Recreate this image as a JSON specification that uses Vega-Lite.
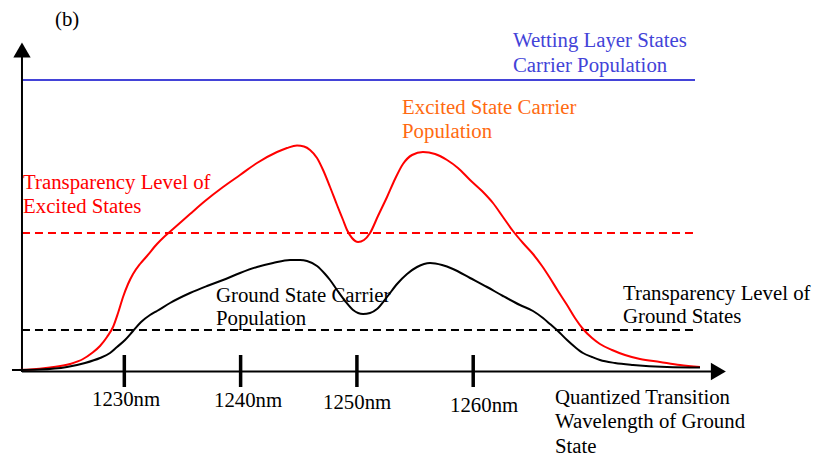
{
  "$schema": "https://vega.github.io/schema/vega-lite/v6.json",
  "width": 815,
  "height": 461,
  "padding": 0,
  "autosize": {"type": "fit", "contains": "padding"},
  "background": "white",
  "config": {"view": {"stroke": null}},
  "datasets": {
    "curves": [
      {"series": "excited", "x": 1220.34, "y": 1},
      {"series": "excited", "x": 1221.89, "y": 1.5},
      {"series": "excited", "x": 1223.61, "y": 3.5},
      {"series": "excited", "x": 1225.33, "y": 7},
      {"series": "excited", "x": 1226.45, "y": 12},
      {"series": "excited", "x": 1227.22, "y": 18},
      {"series": "excited", "x": 1227.91, "y": 25},
      {"series": "excited", "x": 1228.51, "y": 34},
      {"series": "excited", "x": 1229.03, "y": 44},
      {"series": "excited", "x": 1229.46, "y": 58},
      {"series": "excited", "x": 1229.89, "y": 74},
      {"series": "excited", "x": 1230.32, "y": 87},
      {"series": "excited", "x": 1230.75, "y": 97},
      {"series": "excited", "x": 1231.35, "y": 107},
      {"series": "excited", "x": 1231.95, "y": 115},
      {"series": "excited", "x": 1232.81, "y": 127},
      {"series": "excited", "x": 1233.50, "y": 135},
      {"series": "excited", "x": 1234.19, "y": 142},
      {"series": "excited", "x": 1235.65, "y": 157},
      {"series": "excited", "x": 1236.94, "y": 170},
      {"series": "excited", "x": 1238.49, "y": 184},
      {"series": "excited", "x": 1239.95, "y": 196},
      {"series": "excited", "x": 1241.41, "y": 208},
      {"series": "excited", "x": 1243.13, "y": 219},
      {"series": "excited", "x": 1243.99, "y": 223},
      {"series": "excited", "x": 1244.85, "y": 225.5},
      {"series": "excited", "x": 1245.45, "y": 224.5},
      {"series": "excited", "x": 1245.97, "y": 221},
      {"series": "excited", "x": 1246.57, "y": 213},
      {"series": "excited", "x": 1247.09, "y": 201},
      {"series": "excited", "x": 1247.69, "y": 184},
      {"series": "excited", "x": 1248.29, "y": 166},
      {"series": "excited", "x": 1248.81, "y": 151},
      {"series": "excited", "x": 1249.15, "y": 141},
      {"series": "excited", "x": 1249.58, "y": 133},
      {"series": "excited", "x": 1250.10, "y": 129},
      {"series": "excited", "x": 1250.61, "y": 131},
      {"series": "excited", "x": 1251.13, "y": 138},
      {"series": "excited", "x": 1251.81, "y": 155},
      {"series": "excited", "x": 1252.59, "y": 174},
      {"series": "excited", "x": 1253.28, "y": 192},
      {"series": "excited", "x": 1253.96, "y": 207},
      {"series": "excited", "x": 1254.74, "y": 216},
      {"series": "excited", "x": 1255.68, "y": 219},
      {"series": "excited", "x": 1256.72, "y": 217},
      {"series": "excited", "x": 1257.75, "y": 211},
      {"series": "excited", "x": 1258.69, "y": 203},
      {"series": "excited", "x": 1259.73, "y": 191},
      {"series": "excited", "x": 1260.76, "y": 180},
      {"series": "excited", "x": 1261.70, "y": 168},
      {"series": "excited", "x": 1262.56, "y": 154},
      {"series": "excited", "x": 1263.42, "y": 140},
      {"series": "excited", "x": 1264.28, "y": 128},
      {"series": "excited", "x": 1265.14, "y": 117},
      {"series": "excited", "x": 1265.92, "y": 105},
      {"series": "excited", "x": 1266.60, "y": 93},
      {"series": "excited", "x": 1267.29, "y": 80},
      {"series": "excited", "x": 1268.07, "y": 66},
      {"series": "excited", "x": 1268.75, "y": 53},
      {"series": "excited", "x": 1269.44, "y": 42},
      {"series": "excited", "x": 1270.22, "y": 33},
      {"series": "excited", "x": 1270.90, "y": 27},
      {"series": "excited", "x": 1271.94, "y": 21},
      {"series": "excited", "x": 1273.05, "y": 16},
      {"series": "excited", "x": 1274.34, "y": 12},
      {"series": "excited", "x": 1276.06, "y": 9},
      {"series": "excited", "x": 1277.78, "y": 6},
      {"series": "excited", "x": 1279.50, "y": 4},
      {"series": "ground", "x": 1220.34, "y": 1},
      {"series": "ground", "x": 1222.75, "y": 1.5},
      {"series": "ground", "x": 1225.07, "y": 4},
      {"series": "ground", "x": 1226.62, "y": 8},
      {"series": "ground", "x": 1227.91, "y": 13},
      {"series": "ground", "x": 1228.77, "y": 18},
      {"series": "ground", "x": 1229.37, "y": 24},
      {"series": "ground", "x": 1230.06, "y": 31},
      {"series": "ground", "x": 1230.75, "y": 40},
      {"series": "ground", "x": 1231.44, "y": 49},
      {"series": "ground", "x": 1232.21, "y": 56},
      {"series": "ground", "x": 1232.81, "y": 60},
      {"series": "ground", "x": 1233.93, "y": 68},
      {"series": "ground", "x": 1235.65, "y": 78},
      {"series": "ground", "x": 1237.11, "y": 85},
      {"series": "ground", "x": 1238.49, "y": 91},
      {"series": "ground", "x": 1239.95, "y": 98},
      {"series": "ground", "x": 1241.41, "y": 104},
      {"series": "ground", "x": 1242.79, "y": 108},
      {"series": "ground", "x": 1244.25, "y": 111},
      {"series": "ground", "x": 1245.11, "y": 111},
      {"series": "ground", "x": 1245.71, "y": 110},
      {"series": "ground", "x": 1246.57, "y": 105},
      {"series": "ground", "x": 1247.26, "y": 97},
      {"series": "ground", "x": 1247.69, "y": 91},
      {"series": "ground", "x": 1248.29, "y": 81},
      {"series": "ground", "x": 1248.98, "y": 70},
      {"series": "ground", "x": 1249.67, "y": 61},
      {"series": "ground", "x": 1250.53, "y": 57},
      {"series": "ground", "x": 1251.13, "y": 58},
      {"series": "ground", "x": 1251.73, "y": 62},
      {"series": "ground", "x": 1252.59, "y": 74},
      {"series": "ground", "x": 1253.45, "y": 87},
      {"series": "ground", "x": 1254.31, "y": 97},
      {"series": "ground", "x": 1255.17, "y": 104},
      {"series": "ground", "x": 1256.29, "y": 108},
      {"series": "ground", "x": 1257.32, "y": 106},
      {"series": "ground", "x": 1258.26, "y": 102},
      {"series": "ground", "x": 1259.73, "y": 93},
      {"series": "ground", "x": 1261.19, "y": 84},
      {"series": "ground", "x": 1262.56, "y": 75},
      {"series": "ground", "x": 1264.02, "y": 66},
      {"series": "ground", "x": 1265.14, "y": 60},
      {"series": "ground", "x": 1266.00, "y": 53},
      {"series": "ground", "x": 1266.60, "y": 47},
      {"series": "ground", "x": 1267.46, "y": 38},
      {"series": "ground", "x": 1268.07, "y": 31},
      {"series": "ground", "x": 1268.75, "y": 24},
      {"series": "ground", "x": 1269.44, "y": 18},
      {"series": "ground", "x": 1270.22, "y": 14},
      {"series": "ground", "x": 1270.90, "y": 11},
      {"series": "ground", "x": 1272.19, "y": 8},
      {"series": "ground", "x": 1273.74, "y": 6},
      {"series": "ground", "x": 1276.66, "y": 4},
      {"series": "ground", "x": 1279.50, "y": 3.5}
    ],
    "levels": [
      {"series": "wetting", "style": "solid", "x": 1221.20, "x2": 1279.07, "y": 291},
      {"series": "excited", "style": "dashed", "x": 1221.20, "x2": 1278.90, "y": 138},
      {"series": "ground", "style": "dashed", "x": 1221.20, "x2": 1279.33, "y": 41}
    ],
    "axes": [
      {"series": "axis", "x": 1221.20, "x2": 1221.20, "y": -1, "y2": 321},
      {"series": "axis", "x": 1221.20, "x2": 1281.08, "y": -0.5, "y2": -0.5}
    ],
    "ticks": [
      {"series": "axis", "x": 1230, "y": -16, "y2": 16},
      {"series": "axis", "x": 1240, "y": -16, "y2": 16},
      {"series": "axis", "x": 1250, "y": -16, "y2": 16},
      {"series": "axis", "x": 1260, "y": -16, "y2": 16}
    ],
    "arrows": [
      {"series": "axis", "dir": "up", "x": 1221.20, "y": 321},
      {"series": "axis", "dir": "right", "x": 1281.08, "y": -0.5}
    ],
    "labels": [
      {"series": "axis", "text": "(b)", "x": 1224.04, "y": 345},
      {"series": "wetting", "text": "Wetting Layer States", "x": 1263.42, "y": 324},
      {"series": "wetting", "text": "Carrier Population", "x": 1263.42, "y": 299},
      {"series": "excited_label", "text": "Excited State Carrier", "x": 1253.88, "y": 257},
      {"series": "excited_label", "text": "Population", "x": 1253.88, "y": 233},
      {"series": "excited", "text": "Transparency Level of", "x": 1221.29, "y": 182},
      {"series": "excited", "text": "Excited States", "x": 1221.29, "y": 158},
      {"series": "ground", "text": "Ground State Carrier", "x": 1237.88, "y": 69},
      {"series": "ground", "text": "Population", "x": 1237.88, "y": 46},
      {"series": "ground", "text": "Transparency Level of", "x": 1272.88, "y": 71},
      {"series": "ground", "text": "Ground States", "x": 1272.88, "y": 48},
      {"series": "axis", "text": "Quantized Transition", "x": 1267.03, "y": -33},
      {"series": "axis", "text": "Wavelength of Ground", "x": 1267.03, "y": -57},
      {"series": "axis", "text": "State", "x": 1267.03, "y": -82},
      {"series": "axis", "text": "1230nm", "x": 1227.22, "y": -35},
      {"series": "axis", "text": "1240nm", "x": 1237.71, "y": -36},
      {"series": "axis", "text": "1250nm", "x": 1247.09, "y": -38},
      {"series": "axis", "text": "1260nm", "x": 1258.01, "y": -41}
    ]
  },
  "layer": [
    {
      "data": {"name": "levels"},
      "mark": {"type": "rule", "strokeWidth": 2},
      "encoding": {
        "x": {"field": "x", "type": "quantitative", "scale": {"domain": [1219.31, 1289.39], "nice": false, "zero": false}, "axis": null},
        "x2": {"field": "x2"},
        "y": {"field": "y", "type": "quantitative", "scale": {"domain": [-90, 371], "nice": false, "zero": false}, "axis": null},
        "color": {"field": "series", "type": "nominal", "scale": {"domain": ["wetting", "excited", "excited_label", "ground", "axis"], "range": ["#4343D8", "#FF0000", "#FF6A10", "#000000", "#000000"]}, "legend": null},
        "strokeDash": {"field": "style", "type": "nominal", "scale": {"domain": ["solid", "dashed"], "range": [[1, 0], [8, 5]]}, "legend": null}
      }
    },
    {
      "data": {"name": "axes"},
      "mark": {"type": "rule", "strokeWidth": 2},
      "encoding": {
        "x": {"field": "x", "type": "quantitative", "scale": {"domain": [1219.31, 1289.39], "nice": false, "zero": false}, "axis": null},
        "x2": {"field": "x2"},
        "y": {"field": "y", "type": "quantitative", "scale": {"domain": [-90, 371], "nice": false, "zero": false}, "axis": null},
        "y2": {"field": "y2"},
        "color": {"field": "series", "type": "nominal", "scale": {"domain": ["wetting", "excited", "excited_label", "ground", "axis"], "range": ["#4343D8", "#FF0000", "#FF6A10", "#000000", "#000000"]}, "legend": null}
      }
    },
    {
      "data": {"name": "ticks"},
      "mark": {"type": "rule", "strokeWidth": 3.5},
      "encoding": {
        "x": {"field": "x", "type": "quantitative", "scale": {"domain": [1219.31, 1289.39], "nice": false, "zero": false}, "axis": null},
        "y": {"field": "y", "type": "quantitative", "scale": {"domain": [-90, 371], "nice": false, "zero": false}, "axis": null},
        "y2": {"field": "y2"},
        "color": {"field": "series", "type": "nominal", "scale": {"domain": ["wetting", "excited", "excited_label", "ground", "axis"], "range": ["#4343D8", "#FF0000", "#FF6A10", "#000000", "#000000"]}, "legend": null}
      }
    },
    {
      "data": {"name": "arrows"},
      "mark": {"type": "point", "filled": true, "size": 300, "opacity": 1, "strokeWidth": 0},
      "encoding": {
        "x": {"field": "x", "type": "quantitative", "scale": {"domain": [1219.31, 1289.39], "nice": false, "zero": false}, "axis": null},
        "y": {"field": "y", "type": "quantitative", "scale": {"domain": [-90, 371], "nice": false, "zero": false}, "axis": null},
        "shape": {"field": "dir", "type": "nominal", "scale": {"domain": ["up", "right"], "range": ["triangle-up", "triangle-right"]}, "legend": null},
        "color": {"field": "series", "type": "nominal", "scale": {"domain": ["wetting", "excited", "excited_label", "ground", "axis"], "range": ["#4343D8", "#FF0000", "#FF6A10", "#000000", "#000000"]}, "legend": null}
      }
    },
    {
      "data": {"name": "curves"},
      "mark": {"type": "line", "strokeWidth": 2, "interpolate": "monotone"},
      "encoding": {
        "x": {"field": "x", "type": "quantitative", "scale": {"domain": [1219.31, 1289.39], "nice": false, "zero": false}, "axis": null},
        "y": {"field": "y", "type": "quantitative", "scale": {"domain": [-90, 371], "nice": false, "zero": false}, "axis": null},
        "color": {"field": "series", "type": "nominal", "scale": {"domain": ["wetting", "excited", "excited_label", "ground", "axis"], "range": ["#4343D8", "#FF0000", "#FF6A10", "#000000", "#000000"]}, "legend": null},
        "order": {"field": "x", "type": "quantitative"}
      }
    },
    {
      "data": {"name": "labels"},
      "mark": {"type": "text", "align": "left", "baseline": "alphabetic", "font": "Liberation Serif", "fontSize": 20.8},
      "encoding": {
        "x": {"field": "x", "type": "quantitative", "scale": {"domain": [1219.31, 1289.39], "nice": false, "zero": false}, "axis": null},
        "y": {"field": "y", "type": "quantitative", "scale": {"domain": [-90, 371], "nice": false, "zero": false}, "axis": null},
        "text": {"field": "text", "type": "nominal"},
        "color": {"field": "series", "type": "nominal", "scale": {"domain": ["wetting", "excited", "excited_label", "ground", "axis"], "range": ["#3A3ACC", "#FF0000", "#FF6A10", "#000000", "#000000"]}, "legend": null}
      }
    }
  ]
}
